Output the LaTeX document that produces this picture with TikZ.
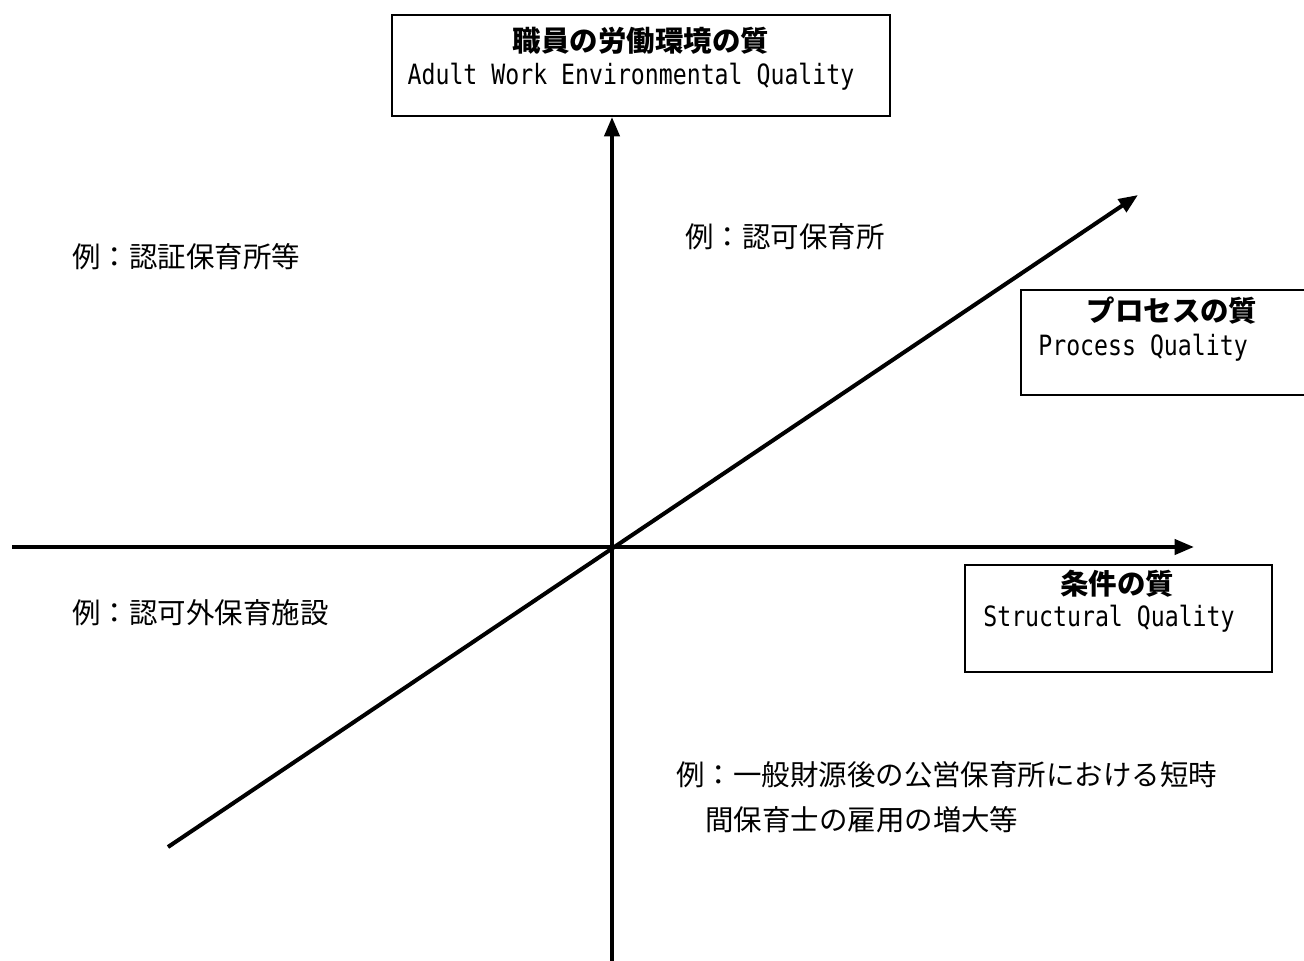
\documentclass[tikz,border=0pt]{standalone}
\usepackage{fontspec}
\usetikzlibrary{arrows.meta}
\newfontfamily\jp{Noto Sans CJK JP}
\newfontfamily\en[FakeStretch=0.83]{DejaVu Sans Mono}
\tikzset{
  axis/.style={line width=2.3pt,-{Triangle[length=11pt,width=8.5pt]}},
  qbox/.style={draw,line width=1.1pt,rectangle,inner sep=0pt},
  jptitle/.style={inner sep=0pt,font=\jp\bfseries\fontsize{16.2pt}{18pt}\selectfont},
  entext/.style={inner sep=0pt,font=\en\fontsize{15.9pt}{18pt}\selectfont},
  label/.style={inner sep=0pt,anchor=west,font=\jp\fontsize{16.2pt}{18pt}\selectfont}
}
\begin{document}
\begin{tikzpicture}[x=0.02cm,y=-0.02cm]
\useasboundingbox (0,0) rectangle (1304,960);
\clip (0,0) rectangle (1304,960);
% boxes
\node[qbox,minimum width=498*0.02cm,minimum height=101*0.02cm] (top) at (641,65.5) {};
\node[jptitle] (topjp) at (641,41) {職員の労働環境の質};
\node[entext] (topen) at (631,77) {Adult Work Environmental Quality};
\node[qbox,minimum width=292*0.02cm,minimum height=105*0.02cm] (proc) at (1167,342.5) {};
\node[jptitle] (procjp) at (1172,311) {プロセスの質};
\node[entext,anchor=west] (procen) at (1038,348) {Process Quality};
\node[qbox,minimum width=307*0.02cm,minimum height=107*0.02cm] (str) at (1118.5,618.5) {};
\node[jptitle] (strjp) at (1117,584) {条件の質};
\node[entext,anchor=west] (stren) at (983,619) {Structural Quality};
% axes
\coordinate (vb) at (612,962);
\coordinate (hl) at (12,547);
\coordinate (hr) at (1194,547);
\coordinate (dl) at (168,847);
\coordinate (dr) at (1138,195);
\draw[axis] (vb) -- (top.south -| vb);
\draw[axis] (hl) -- (hr);
\draw[axis] (dl) -- (dr);
% labels
\node[label] (l1) at (72,257) {例：認証保育所等};
\node[label] (l2) at (685,237) {例：認可保育所};
\node[label] (l3) at (72,613) {例：認可外保育施設};
\node[label] (l4) at (676,775) {例：一般財源後の公営保育所における短時};
\node[label] (l5) at (705,820) {間保育士の雇用の増大等};
\end{tikzpicture}
\end{document}
